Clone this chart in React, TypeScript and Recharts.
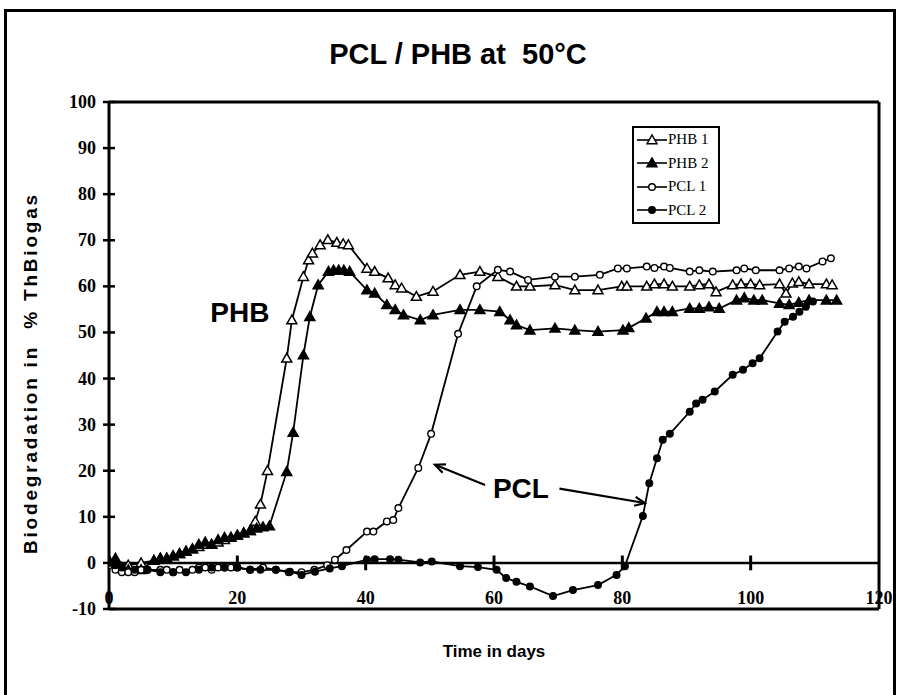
import { LineChart, Line, XAxis, YAxis, ReferenceLine, ReferenceDot, Legend } from "recharts";

// [day, % ThBiogas]
const PHB1: [number, number][] = [
  [0, 0.5], [1, 0], [3, -0.5], [5, 0], [7, 0.5], [8, 1], [9, 1], [10, 1.5], [11, 2], [12, 2.5],
  [13, 3], [14, 3.5], [15, 4], [16, 4], [17, 4.5], [18, 5], [19, 5.5], [20, 6], [21, 6.5], [22, 7],
  [22.8, 9], [23.6, 12.7], [24.7, 20], [27.7, 44.4], [28.5, 52.7], [30.3, 62.1], [31.1, 65.7],
  [31.7, 67.2], [32.9, 69], [34.1, 70.1], [35.5, 69.5], [36.5, 69.2], [37.3, 69], [40.2, 63.9],
  [41.4, 63.2], [43.5, 61.8], [44.6, 60.3], [45.6, 59.6], [47.9, 57.8], [50.5, 58.9], [54.7, 62.5],
  [57.8, 63.2], [60.6, 62.1], [63.5, 60], [65.6, 60], [69.5, 60.3], [72.6, 59.2], [76.2, 59.2],
  [79.9, 60], [80.7, 60], [83.8, 60], [85, 60.5], [86.5, 60.5], [87.8, 60], [90.5, 60], [92, 60.3],
  [93.5, 60.5], [94.6, 58.8], [97.2, 60.3], [98.5, 60.5], [100, 60.5], [101.4, 60.3], [104.5, 60.5],
  [105.5, 58.5], [106.5, 60.7], [107.5, 61], [109.1, 60.5], [111.8, 60.5], [112.7, 60.3],
];

const PHB2: [number, number][] = [
  [0, 0.5], [1, 1], [2, -1], [3, -1.5], [5, -1.5], [7, 0.5], [8, 1], [9, 1], [10, 1.5], [11, 2],
  [12, 2.5], [13, 3], [14, 4], [15, 4.5], [16, 4], [17, 5], [18, 5.5], [19, 5.5], [20, 6], [21, 6.5],
  [22, 7], [23, 7.5], [24, 7.8], [25, 8], [27.7, 19.8], [28.7, 28.3], [30.3, 45.1], [31.3, 53.4],
  [32.6, 60.3], [34.2, 63.2], [35, 63.5], [35.8, 63.5], [36.6, 63.5], [37.5, 63.2], [40.2, 59.2],
  [41.4, 58.5], [43.3, 56], [44.6, 54.9], [45.9, 53.8], [48.5, 52.7], [50.5, 53.8], [54.7, 54.9],
  [57.8, 54.9], [60.9, 54.5], [62.5, 52.7], [63.5, 51.6], [65.6, 50.5], [69.5, 50.9], [72.6, 50.5],
  [76.2, 50.2], [80.1, 50.5], [81, 51], [83.7, 53.1], [85.4, 54.5], [86.5, 54.5], [87.8, 54.5],
  [90.5, 55.2], [92, 55.2], [93.5, 55.5], [95.1, 55.2], [97.8, 57], [99, 57.5], [100.5, 57],
  [101.8, 57], [104.5, 56.3], [106, 56], [107.5, 56.5], [109.1, 57], [111.8, 57], [113.4, 57],
];

const PCL1: [number, number][] = [
  [0, -0.5], [1, -1.5], [2, -2], [3, -2], [4, -2], [5, -1.5], [6, -1.5], [8, -1.5], [9, -1.5],
  [10, -2], [11, -1.5], [13, -1.5], [14, -1], [15, -1], [16, -1.5], [17, -1], [18, -1], [19, -1],
  [20, -1], [22, -1.5], [24, -1], [26, -1.5], [28, -2], [30, -2], [32, -1.5], [34, -0.5], [35.2, 0.7],
  [37, 2.8], [40.2, 6.8], [41.2, 6.8], [43.3, 9], [44.3, 9.3], [45.1, 11.9], [48.2, 20.6], [50.2, 28],
  [54.4, 49.7], [57.3, 60], [60.6, 63.6], [62.5, 63.2], [65.3, 61.4], [69.5, 62.1], [72.6, 62.1],
  [76.5, 62.5], [79.3, 63.9], [80.7, 63.9], [83.8, 64.3], [85, 64], [86.5, 64.3], [87.4, 64],
  [90.5, 63.2], [92, 63.5], [94.1, 63.2], [97.8, 63.5], [99, 63.9], [100.8, 63.5], [104.5, 63.5],
  [106, 63.9], [107.5, 64.3], [108.7, 63.9], [111.2, 65.4], [112.5, 66.1],
];

const PCL2: [number, number][] = [
  [0, 0], [1, -0.5], [2, -1], [4, -1.5], [6, -1.5], [8, -2], [10, -2], [12, -2], [14, -1.5], [16, -1],
  [18, -1], [20, -1], [22, -1.5], [23.6, -1.5], [26, -1.5], [28.2, -1.9], [30, -2.6], [32.1, -1.9],
  [34.4, -1.2], [36.3, -0.7], [40.2, 0.7], [41.4, 0.8], [43.8, 0.8], [45.1, 0.7], [48.5, 0.1],
  [50.3, 0.3], [54.7, -0.7], [57.5, -0.9], [60.4, -1.5], [61.9, -3.3], [63.5, -4.1], [65.6, -5.1],
  [69.2, -7.2], [72.3, -5.9], [76.2, -4.8], [79.1, -2.6], [80.4, -0.7], [83.2, 10.2], [84.2, 17.3],
  [85.4, 22.7], [86.3, 26.7], [87.4, 28], [90.5, 32.8], [91.5, 34.6], [92.5, 35.4], [94.4, 37.2],
  [97.2, 40.8], [98.8, 41.9], [100.3, 43.3], [101.4, 44.4], [104.2, 50.2], [105.3, 52.3],
  [106.6, 53.4], [107.6, 54.5], [108.6, 55.6], [109.7, 56.7],
];

const X_TICKS = [0, 20, 40, 60, 80, 100, 120];
const Y_TICKS = [-10, 0, 10, 20, 30, 40, 50, 60, 70, 80, 90, 100];
const ZERO_LINE_TICKS = [20, 40, 60, 80, 100];

const SERIES = [
  { key: "phb1", label: "PHB 1", points: PHB1, shape: "triangle", filled: false },
  { key: "phb2", label: "PHB 2", points: PHB2, shape: "triangle", filled: true },
  { key: "pcl1", label: "PCL 1", points: PCL1, shape: "circle", filled: false },
  { key: "pcl2", label: "PCL 2", points: PCL2, shape: "circle", filled: true },
];

const SANS = "'Liberation Sans', Arial, sans-serif";
const SERIF = "'Liberation Serif', 'Times New Roman', serif";

const Marker = ({ cx, cy, shape, filled }: any) => {
  if (shape === "triangle") {
    const s = 5;
    return (
      <polygon
        points={`${cx},${cy - s} ${cx - s},${cy + s * 0.75} ${cx + s},${cy + s * 0.75}`}
        fill={filled ? "#000" : "#fff"}
        stroke="#000"
        strokeWidth={1.5}
      />
    );
  }
  return <circle cx={cx} cy={cy} r={3.3} fill={filled ? "#000" : "#fff"} stroke="#000" strokeWidth={1.4} />;
};

const makeDot = (shape: string, filled: boolean) => (props: any) => (
  <Marker key={`d-${props.index}`} cx={props.cx} cy={props.cy} shape={shape} filled={filled} />
);

const YTick = ({ x, y, payload }: any) => (
  <g>
    <line x1={x - 6} x2={x + 6} y1={y} y2={y} stroke="#000" strokeWidth={2.5} />
    <text x={x - 13} y={y} dy={6} textAnchor="end" fontFamily={SERIF} fontWeight="bold" fontSize={18} fill="#000">
      {payload.value}
    </text>
  </g>
);

const XTick = ({ x, y, payload }: any) => (
  <text x={x} y={y - 5} textAnchor="middle" fontFamily={SERIF} fontWeight="bold" fontSize={18} fill="#000">
    {payload.value}
  </text>
);

const Arrow = (props: any) => {
  const { x1, y1, x2, y2 } = props;
  const a = Math.atan2(y2 - y1, x2 - x1);
  const L = 11;
  const w = 0.42;
  const p1 = `${x2 - L * Math.cos(a - w)},${y2 - L * Math.sin(a - w)}`;
  const p2 = `${x2 - L * Math.cos(a + w)},${y2 - L * Math.sin(a + w)}`;
  return (
    <g>
      <line x1={x1} y1={y1} x2={x2} y2={y2} stroke="#000" strokeWidth={2.2} />
      <polyline points={`${p1} ${x2},${y2} ${p2}`} fill="none" stroke="#000" strokeWidth={2.2} />
    </g>
  );
};

const TextMark = (text: string) => (props: any) => (
  <text x={props.cx} y={props.cy} dy={10} textAnchor="middle" fontFamily={SANS} fontWeight="bold" fontSize={28} fill="#000">
    {text}
  </text>
);

const LegendBox = () => (
  <div
    style={{
      border: "2px solid #000",
      background: "#fff",
      width: 84,
      fontFamily: SERIF,
      fontSize: 15,
      color: "#000",
      boxSizing: "content-box",
    }}
  >
    {SERIES.map((s) => (
      <div key={s.key} style={{ display: "flex", alignItems: "center", height: 23.5, paddingLeft: 3 }}>
        <svg width={30} height={14}>
          <line x1={0} y1={7} x2={30} y2={7} stroke="#000" strokeWidth={1.6} />
          <Marker cx={15} cy={7} shape={s.shape} filled={s.filled} />
        </svg>
        <span style={{ marginLeft: 1 }}>{s.label}</span>
      </div>
    ))}
  </div>
);

export default function App() {
  return (
    <div style={{ position: "absolute", left: 0, top: 0, width: 899, height: 695, background: "#fff", overflow: "hidden" }}>
      <div
        style={{
          position: "absolute",
          left: 4,
          top: 9,
          width: 886,
          height: 720,
          borderTop: "3px solid #000",
          borderLeft: "3px solid #000",
          borderRight: "3px solid #000",
        }}
      />
      <div
        style={{
          position: "absolute",
          left: 0,
          width: 916,
          top: 38,
          textAlign: "center",
          fontFamily: SANS,
          fontWeight: "bold",
          fontSize: 29,
        }}
      >
        PCL / PHB at&nbsp; 50°C
      </div>
      <div
        style={{
          position: "absolute",
          left: 31,
          top: 373,
          transform: "translate(-50%, -50%) rotate(-90deg)",
          whiteSpace: "nowrap",
          fontFamily: SANS,
          fontWeight: "bold",
          fontSize: 19,
          letterSpacing: 2.8,
        }}
      >
        Biodegradation in&nbsp; % ThBiogas
      </div>
      <div
        style={{
          position: "absolute",
          left: 494,
          top: 652,
          transform: "translate(-50%, -50%)",
          whiteSpace: "nowrap",
          fontFamily: SANS,
          fontWeight: "bold",
          fontSize: 17,
        }}
      >
        Time in days
      </div>
      <div style={{ position: "absolute", left: 0, top: 0 }}>
        <LineChart width={899} height={695} margin={{ top: 102, right: 20, bottom: 56, left: 49 }}>
          <XAxis
            dataKey="day"
            type="number"
            domain={[0, 120]}
            ticks={X_TICKS}
            allowDataOverflow
            height={30}
            tickSize={0}
            tickMargin={0}
            tickLine={false}
            axisLine={{ stroke: "#000", strokeWidth: 3 }}
            tick={<XTick />}
            interval={0}
          />
          <YAxis
            type="number"
            domain={[-10, 100]}
            ticks={Y_TICKS}
            allowDataOverflow
            width={60}
            tickSize={0}
            tickMargin={0}
            tickLine={false}
            axisLine={{ stroke: "#000", strokeWidth: 3 }}
            tick={<YTick />}
            interval={0}
          />
          <ReferenceLine y={100} stroke="#000" strokeWidth={3} />
          <ReferenceLine x={120} stroke="#000" strokeWidth={3} />
          <ReferenceLine y={0} stroke="#000" strokeWidth={2.5} />
          {ZERO_LINE_TICKS.map((t) => (
            <ReferenceLine
              key={`zt-${t}`}
              segment={[
                { x: t, y: -1.6 },
                { x: t, y: 1.6 },
              ]}
              stroke="#000"
              strokeWidth={3}
            />
          ))}
          {SERIES.map((s) => (
            <Line
              key={s.key}
              data={s.points.map(([day, value]) => ({ day, value }))}
              dataKey="value"
              name={s.label}
              type="linear"
              stroke="#000"
              strokeWidth={1.8}
              dot={makeDot(s.shape, s.filled)}
              activeDot={false}
              isAnimationActive={false}
            />
          ))}
          <ReferenceLine segment={[{ x: 58.6, y: 16.9 }, { x: 50.8, y: 21.3 }]} shape={Arrow} />
          <ReferenceLine segment={[{ x: 70.2, y: 16.1 }, { x: 83.5, y: 13.0 }]} shape={Arrow} />
          <ReferenceDot x={20.4} y={54.4} r={0} shape={TextMark("PHB")} />
          <ReferenceDot x={64.2} y={16.3} r={0} shape={TextMark("PCL")} />
          <Legend
            layout="vertical"
            align="center"
            verticalAlign="middle"
            content={<LegendBox />}
            wrapperStyle={{ left: 632, top: 126, width: 88, height: 96 }}
          />
        </LineChart>
      </div>
    </div>
  );
}
